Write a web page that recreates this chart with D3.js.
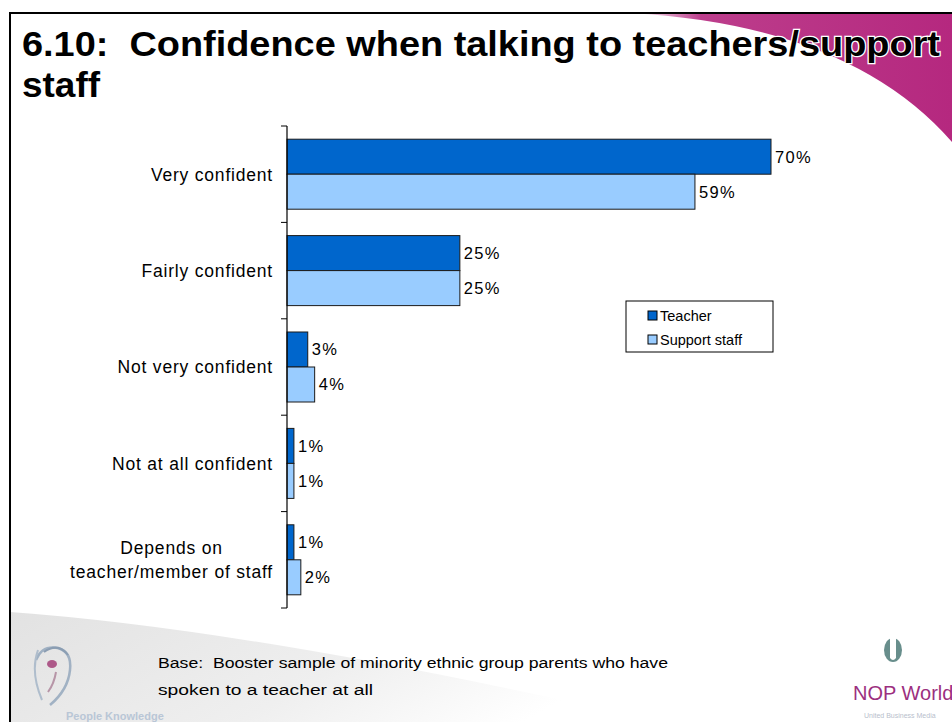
<!DOCTYPE html>
<html>
<head>
<meta charset="utf-8">
<script src="https://cdn.jsdelivr.net/npm/d3@7"></script>
<style>
  html, body { margin: 0; padding: 0; background: #fff; }
  svg { display: block; font-family: "Liberation Sans", Arial, sans-serif; }
  text { white-space: pre; }
</style>
</head>
<body>
<svg id="chart" width="952" height="722"></svg>
<script>
// Survey responses: confidence when talking to school staff (% of parents)
const categories = [
  "Very confident",
  "Fairly confident",
  "Not very confident",
  "Not at all confident",
  "Depends on\nteacher/member of staff"
];
const seriesNames = ["Teacher", "Support staff"];
const teacherValues = [70, 25, 3, 1, 1];
const supportValues = [59, 25, 4, 1, 2];
const seriesColors = ["#0066CC", "#99CCFF"];

const titleLines = ["6.10:  Confidence when talking to teachers/support", "staff"];
const baseNote = [
  "Base:  Booster sample of minority ethnic group parents who have",
  "spoken to a teacher at all"
];

const svg = d3.select("#chart");
const defs = svg.append("defs");

// ---- slide decoration ----
const purpleGrad = defs.append("linearGradient").attr("id", "purpleFade")
  .attr("x1", "0").attr("x2", "1").attr("y1", "0").attr("y2", "0");
purpleGrad.append("stop").attr("offset", "0").attr("stop-color", "#B5287F").attr("stop-opacity", 0);
purpleGrad.append("stop").attr("offset", "0.22").attr("stop-color", "#B5287F").attr("stop-opacity", 0.9);
purpleGrad.append("stop").attr("offset", "1").attr("stop-color", "#B5287F").attr("stop-opacity", 1);

svg.append("path")
  .attr("d", "M630,13 Q850,25 952,142 L952,13 Z")
  .attr("fill", "url(#purpleFade)");

const greyGrad = defs.append("linearGradient").attr("id", "greyFade")
  .attr("x1", "0").attr("x2", "1").attr("y1", "0").attr("y2", "0.3");
greyGrad.append("stop").attr("offset", "0").attr("stop-color", "#e2e2e2");
greyGrad.append("stop").attr("offset", "0.6").attr("stop-color", "#efefef");
greyGrad.append("stop").attr("offset", "1").attr("stop-color", "#ffffff");

svg.append("path")
  .attr("d", "M10,612 Q260,630 660,722 L10,722 Z")
  .attr("fill", "url(#greyFade)");

// frame lines
svg.append("line").attr("x1", 9).attr("x2", 952).attr("y1", 13).attr("y2", 13)
  .attr("stroke", "#000").attr("stroke-width", 2);
svg.append("line").attr("x1", 10).attr("x2", 10).attr("y1", 12).attr("y2", 722)
  .attr("stroke", "#000").attr("stroke-width", 2);

// ---- title ----
const title = svg.append("g");
title.selectAll("text").data(titleLines).join("text")
  .attr("x", 22)
  .attr("y", (d, i) => 56 + i * 41)
  .attr("font-size", 35)
  .attr("font-weight", "bold")
  .attr("fill", "#000")
  .attr("stroke", "#fff")
  .attr("stroke-width", 2.5)
  .attr("paint-order", "stroke")
  .attr("textLength", (d, i) => i === 0 ? 918 : 78)
  .attr("lengthAdjust", "spacingAndGlyphs")
  .text(d => d);

// ---- chart ----
const plotTop = 126, plotBottom = 608, plotLeft = 287;

const x = d3.scaleLinear().domain([0, 70]).range([plotLeft, 771]);
const y = d3.scaleBand().domain(categories).range([plotTop, plotBottom]).paddingInner(0).paddingOuter(0);
const ySub = d3.scaleBand().domain(seriesNames).range([0, y.bandwidth()]).paddingInner(0).paddingOuter(0.377);

const rows = categories.map((c, i) => ({
  category: c,
  values: [
    { series: seriesNames[0], value: teacherValues[i] },
    { series: seriesNames[1], value: supportValues[i] }
  ]
}));

const groups = svg.append("g").selectAll("g").data(rows).join("g")
  .attr("transform", d => `translate(0,${y(d.category)})`);

groups.selectAll("rect").data(d => d.values).join("rect")
  .attr("x", x(0))
  .attr("y", d => ySub(d.series))
  .attr("width", d => x(d.value) - x(0))
  .attr("height", ySub.bandwidth())
  .attr("fill", (d, i) => seriesColors[i])
  .attr("stroke", "#1a1a1a")
  .attr("stroke-width", 1);

groups.selectAll("text.val").data(d => d.values).join("text")
  .attr("class", "val")
  .attr("x", d => x(d.value) + 4)
  .attr("y", d => ySub(d.series) + ySub.bandwidth() / 2)
  .attr("dy", "0.36em")
  .attr("font-size", 16.5)
  .attr("letter-spacing", 1.3)
  .attr("fill", "#000")
  .text(d => d.value + "%");

// category axis: line with ticks between categories
const axisG = svg.append("g").attr("transform", `translate(${plotLeft},0)`);
axisG.append("line").attr("x1", 0).attr("x2", 0).attr("y1", plotTop).attr("y2", plotBottom)
  .attr("stroke", "#000").attr("stroke-width", 1.2);
const tickPos = categories.map(c => y(c)).concat([plotBottom]);
axisG.selectAll("line.tick").data(tickPos).join("line")
  .attr("class", "tick")
  .attr("x1", -6).attr("x2", 0)
  .attr("y1", d => d).attr("y2", d => d)
  .attr("stroke", "#000").attr("stroke-width", 1);

// category labels (multi-line labels centred on their widest line)
const labelRight = 273;
categories.forEach(c => {
  const lines = c.split("\n");
  const cy = y(c) + y.bandwidth() / 2;
  const lh = 24;
  const t = svg.append("text")
    .attr("font-size", 17.5)
    .attr("letter-spacing", 0.8)
    .attr("fill", "#000");
  if (lines.length === 1) {
    t.attr("x", labelRight).attr("y", cy).attr("dy", "0.36em")
      .attr("text-anchor", "end").text(c);
  } else {
    const spans = t.selectAll("tspan").data(lines).join("tspan")
      .attr("y", (d, i) => cy + (i - (lines.length - 1) / 2) * lh)
      .attr("dy", "0.36em")
      .attr("text-anchor", "middle")
      .text(d => d);
    let maxW = 0;
    spans.each(function () { maxW = Math.max(maxW, this.getComputedTextLength()); });
    spans.attr("x", labelRight - maxW / 2);
  }
});

// ---- legend ----
const legend = svg.append("g").attr("transform", "translate(626,301)");
legend.append("rect").attr("width", 147).attr("height", 51)
  .attr("fill", "#fff").attr("stroke", "#000").attr("stroke-width", 1);
const legItems = legend.selectAll("g").data(seriesNames).join("g")
  .attr("transform", (d, i) => `translate(22,${15 + i * 24})`);
legItems.append("rect").attr("x", 0).attr("y", -5).attr("width", 9).attr("height", 9)
  .attr("fill", (d, i) => seriesColors[i]).attr("stroke", "#000").attr("stroke-width", 1);
legItems.append("text").attr("x", 12).attr("y", 0).attr("dy", "0.36em")
  .attr("font-size", 14.5).attr("fill", "#000").text(d => d);

// ---- base note ----
svg.append("g").selectAll("text").data(baseNote).join("text")
  .attr("x", 158)
  .attr("y", (d, i) => 668 + i * 27)
  .attr("font-size", 15.5)
  .attr("fill", "#000")
  .attr("textLength", (d, i) => i === 0 ? 510 : 215)
  .attr("lengthAdjust", "spacingAndGlyphs")
  .text(d => d);

// ---- logos ----
// left emblem
const eye = svg.append("g").attr("opacity", 0.75);
eye.append("path").attr("d", "M36,660 Q42,645 58,648 Q72,652 70,670 Q68,690 50,705")
  .attr("fill", "none").attr("stroke", "#8aa0b8").attr("stroke-width", 2.5);
eye.append("path").attr("d", "M38,650 Q30,672 42,700")
  .attr("fill", "none").attr("stroke", "#9db0c4").attr("stroke-width", 2);
eye.append("path").attr("d", "M44,652 Q58,642 68,655")
  .attr("fill", "none").attr("stroke", "#6d86a2").attr("stroke-width", 2);
eye.append("ellipse").attr("cx", 52).attr("cy", 664).attr("rx", 5).attr("ry", 4).attr("fill", "#9b2a6a");
eye.append("path").attr("d", "M56,672 Q54,684 48,692")
  .attr("fill", "none").attr("stroke", "#a77a92").attr("stroke-width", 2);
svg.append("text").attr("x", 66).attr("y", 720).attr("font-size", 11)
  .attr("fill", "#b9c6d6").attr("font-weight", "bold").text("People Knowledge");

// right emblem
const globe = svg.append("g").attr("transform", "translate(893,650)");
globe.append("ellipse").attr("rx", 9).attr("ry", 12).attr("fill", "#4e7a78").attr("opacity", 0.85);
globe.append("path").attr("d", "M-3,-12 L-3,8 Q0,12 3,8 L3,-12")
  .attr("fill", "#fff");
svg.append("text").attr("x", 853).attr("y", 700).attr("font-size", 20)
  .attr("fill", "#9c2f7f").text("NOP World");
svg.append("text").attr("x", 864).attr("y", 718).attr("font-size", 7)
  .attr("fill", "#b8c0cc").text("United Business Media");
</script>
</body>
</html>
